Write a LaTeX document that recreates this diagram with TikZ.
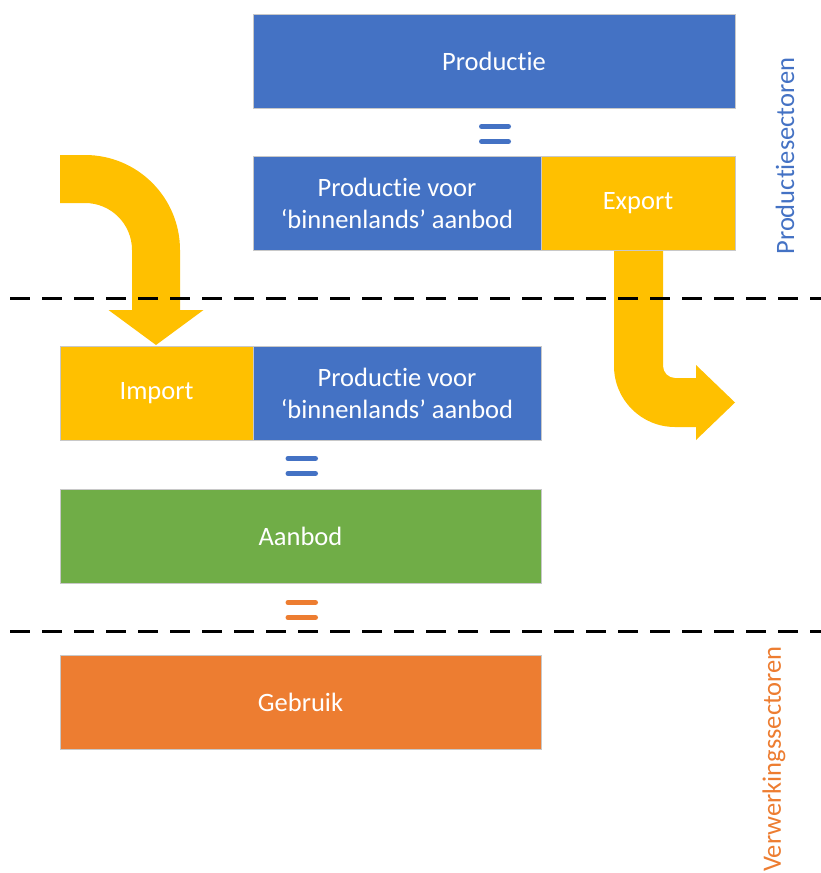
\documentclass[tikz,border=0pt]{standalone}
\usepackage{fontspec}
\setmainfont{Carlito}[Ligatures=NoCommon]
\definecolor{cblue}{HTML}{4472C4}
\definecolor{cyellow}{HTML}{FFC000}
\definecolor{cgreen}{HTML}{70AD47}
\definecolor{corange}{HTML}{ED7D31}
\definecolor{cedge}{HTML}{C8C8C8}
\begin{document}
\begin{tikzpicture}[x=1pt,y=-1pt,
  box/.style={draw=cedge, line width=0.8pt, minimum height=94pt, inner sep=0pt,
    text=white, align=center, font=\fontsize{26.5}{32}\selectfont},
  eqbar/.style={line width=5pt, line cap=round},
  sepline/.style={line width=3pt, dash pattern=on 20pt off 12pt},
  sidelabel/.style={rotate=90, font=\fontsize{26.5}{32}\selectfont, inner sep=0pt}]
\useasboundingbox (0,0) rectangle (821,873);
\fill[white] (0,0) rectangle (821,873);

% curved arrows (shapes)
\fill[cyellow] (60,155) -- (85,155) .. controls (137.5,155) and (180,197.5) .. (180,250)
  -- (180,310) -- (203.5,310) -- (156,345) -- (108.5,310) -- (132,310) -- (132,250)
  .. controls (132,224) and (111,203) .. (85,203) -- (60,203) -- cycle;
\fill[cyellow] (614,249) -- (614,366) .. controls (614,399.7) and (641.3,427) .. (675,427)
  -- (696,427) -- (696,440) -- (735,402.5) -- (696,365) -- (696,378) -- (675,378)
  .. controls (668.4,378) and (663,372.6) .. (663,366) -- (663,249) -- cycle;

% separators
\draw[sepline] (10,298.5) -- (821,298.5);
\draw[sepline] (10,631) -- (821,631);

% boxes
\node[box, fill=cblue, minimum width=482pt] (prod) at (494,61) {Productie};
\node[box, fill=cblue, minimum width=288pt] (pvb1) at (397,203) {Productie voor\\‘binnenlands’ aanbod};
\node[box, fill=cyellow, minimum width=194pt] (exp) at (638,203) {Export};
\node[box, fill=cyellow, minimum width=193pt] (imp) at (156.5,393) {Import};
\node[box, fill=cblue, minimum width=288pt] (pvb2) at (397,393) {Productie voor\\‘binnenlands’ aanbod};
\node[box, fill=cgreen, minimum width=481pt] (aan) at (300.5,536) {Aanbod};
\node[box, fill=corange, minimum width=481pt] (geb) at (300.5,702) {Gebruik};

% equals signs
\draw[eqbar, cblue] (481.5,126.5) -- (508.5,126.5);
\draw[eqbar, cblue] (481.5,141.5) -- (508.5,141.5);
\draw[eqbar, cblue] (288,458.5) -- (315.5,458.5);
\draw[eqbar, cblue] (288,473.5) -- (315.5,473.5);
\draw[eqbar, corange] (288,602.5) -- (315.5,602.5);
\draw[eqbar, corange] (288,617.5) -- (315.5,617.5);

% side labels
\node[sidelabel, text=cblue] (ps) at (785,156) {Productiesectoren};
\node[sidelabel, text=corange] (vs) at (774,759) {Verwerkingssectoren};
\end{tikzpicture}
\end{document}
